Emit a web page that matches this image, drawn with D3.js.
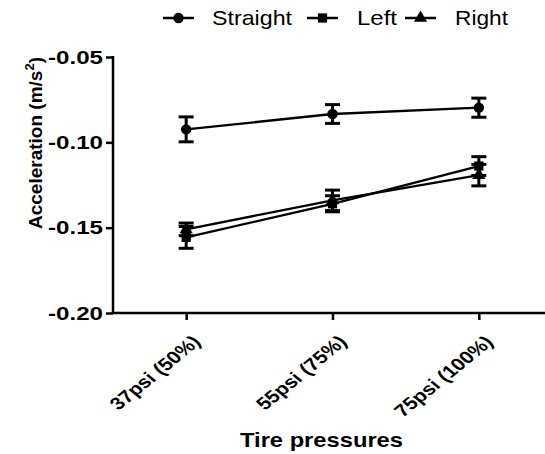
<!DOCTYPE html>
<html><head><meta charset="utf-8">
<script src="https://cdn.jsdelivr.net/npm/d3@7"></script>
<style>body{margin:0;background:#fff}svg{display:block}text{font-family:"Liberation Sans",Arial,sans-serif}</style>
</head><body>
<svg id="c" width="545" height="454"></svg>
<script>
const categories = ["37psi (50%)", "55psi (75%)", "75psi (100%)"];
const seriesNames = ["Straight", "Left", "Right"];
const straight = [-0.0924, -0.0834, -0.0797];
const straightErr = [0.0073, 0.0055, 0.0056];
const left = [-0.1557, -0.1360, -0.1139];
const leftErr = [0.0064, 0.0047, 0.0055];
const right = [-0.1510, -0.1340, -0.1192];
const rightErr = [0.0037, 0.0060, 0.0063];
const yTicks = [-0.20, -0.15, -0.10, -0.05];

const svg = d3.select("#c");
const x = d3.scalePoint().domain(categories).range([113, 552]).padding(0.5);
const y = d3.scaleLinear().domain([-0.20, -0.05]).range([313, 57]);

const series = [
  {name: seriesNames[0], vals: straight, err: straightErr, sym: d3.symbolCircle, size: 85},
  {name: seriesNames[1], vals: left, err: leftErr, sym: d3.symbolSquare, size: 85},
  {name: seriesNames[2], vals: right, err: rightErr, sym: d3.symbolTriangle, size: 75}
];

const fmt = d => d3.format(".2f")(d).replace("\u2212", "-");

// axes
const yAxis = svg.append("g").attr("transform", "translate(113,0)")
  .call(d3.axisLeft(y).tickValues(yTicks).tickFormat(fmt).tickSize(7).tickSizeOuter(0));
yAxis.select(".domain").attr("stroke-width", 2.5).attr("d", "M0,313V56");
yAxis.selectAll(".tick line").attr("stroke-width", 2.5);
yAxis.selectAll(".tick text").attr("font-size", 17.5).attr("font-weight", "bold").attr("fill", "#000")
  .attr("x", -10).attr("dy", "0.35em").attr("textLength", 55).attr("lengthAdjust", "spacingAndGlyphs");

const xAxis = svg.append("g").attr("transform", "translate(0,313)")
  .call(d3.axisBottom(x).tickSize(7).tickSizeOuter(0));
xAxis.select(".domain").attr("stroke-width", 2.5).attr("d", "M112,0H545");
xAxis.selectAll(".tick line").attr("stroke-width", 2.5);
xAxis.selectAll(".tick text").attr("font-size", 17.5).attr("font-weight", "bold").attr("fill", "#000")
  .attr("text-anchor", "end").attr("y", 0).attr("dy", 0)
  .attr("transform", "translate(15,30) scale(1.22,1) rotate(-45)");

// axis titles
svg.append("text").attr("x", 240).attr("y", 447).attr("font-size", 21).attr("font-weight", "bold")
  .attr("textLength", 163).attr("lengthAdjust", "spacingAndGlyphs").text("Tire pressures");
const yl = svg.append("text").attr("transform", "translate(42,143) rotate(-90)")
  .attr("text-anchor", "middle").attr("font-size", 19).attr("font-weight", "bold");
yl.append("tspan").text("Acceleration (m/s");
yl.append("tspan").attr("font-size", 13).attr("dy", -8).text("2");
yl.append("tspan").attr("dy", 8).text(")");

// series
const line = d3.line().x((d, i) => x(categories[i])).y(d => y(d));
series.forEach(s => {
  svg.append("path").attr("d", line(s.vals)).attr("fill", "none").attr("stroke", "#000").attr("stroke-width", 2.3);
  const g = svg.append("g");
  s.vals.forEach((v, i) => {
    const cx = x(categories[i]);
    const y0 = y(v + s.err[i]), y1 = y(v - s.err[i]);
    g.append("line").attr("x1", cx).attr("x2", cx).attr("y1", y0).attr("y2", y1).attr("stroke", "#000").attr("stroke-width", 3);
    g.append("line").attr("x1", cx - 7.5).attr("x2", cx + 7.5).attr("y1", y0).attr("y2", y0).attr("stroke", "#000").attr("stroke-width", 3);
    g.append("line").attr("x1", cx - 7.5).attr("x2", cx + 7.5).attr("y1", y1).attr("y2", y1).attr("stroke", "#000").attr("stroke-width", 3);
    g.append("path").attr("transform", `translate(${cx},${y(v)})`).attr("d", d3.symbol(s.sym, s.size)()).attr("fill", "#000");
  });
});

// legend
const legendPos = [{lx: 163, tx: 212, w: 80}, {lx: 307, tx: 357, w: 40}, {lx: 405, tx: 455, w: 53}];
series.forEach((s, i) => {
  const p = legendPos[i];
  svg.append("line").attr("x1", p.lx).attr("x2", p.lx + 31).attr("y1", 18).attr("y2", 18).attr("stroke", "#000").attr("stroke-width", 2.5);
  svg.append("path").attr("transform", `translate(${p.lx + 15.5},18)`).attr("d", d3.symbol(s.sym, s.size)()).attr("fill", "#000");
  svg.append("text").attr("x", p.tx).attr("y", 25).attr("font-size", 21)
    .attr("textLength", p.w).attr("lengthAdjust", "spacingAndGlyphs").text(s.name);
});
</script>
</body></html>
